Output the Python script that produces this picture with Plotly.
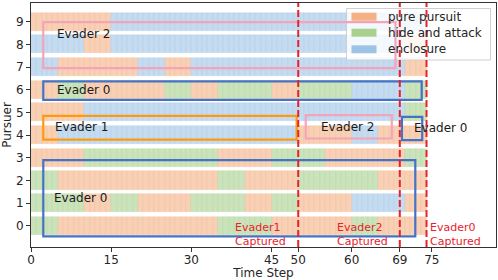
import plotly.graph_objects as go

# ---------------- data ----------------
strategy_codes = ["P", "H", "E"]
strategy_names = ["pure pursuit", "hide and attack", "enclosure"]
strategy_rgb = [(244, 177, 131), (169, 209, 142), (157, 195, 230)]

# strategy chosen by each pursuer for each 5-step decision segment
segment_edges = [0, 5, 10, 15, 20, 25, 30, 35, 40, 45, 50, 55, 60, 65, 70, 74]
pursuer_ids = [0, 1, 2, 3, 4, 5, 6, 7, 8, 9]
pursuer_0 = list("HPPPPPPHHPPPHPP")
pursuer_1 = list("HHPHPPHHPHPPEEP")
pursuer_2 = list("HPPPPPPHPPHHHPP")
pursuer_3 = list("PPHHHHHPPHHPPPH")
pursuer_4 = list("PEEEEEEEEEPPEPP")
pursuer_5 = list("PPEEEEEEEEEEEEH")
pursuer_6 = list("PHPPPHPHHPHHEEH")
pursuer_7 = list("EPPPEPEEEEEEEEP")
pursuer_8 = list("EEPEEEEEEEEEEEP")
pursuer_9 = list("PPPEEEEEEEEEEEE")
pursuer_plans = [pursuer_0, pursuer_1, pursuer_2, pursuer_3, pursuer_4,
                 pursuer_5, pursuer_6, pursuer_7, pursuer_8, pursuer_9]

capture_steps = [50, 69, 74]
capture_evaders = ["Evader1", "Evader2", "Evader0"]

x_ticks = [0, 15, 30, 45, 50, 60, 69, 75]

# evader groups: (label, t0, t1, y0, y1)
group_labels = ["Evader 2", "Evader 0", "Evader 1", "Evader 2", "Evader 0", "Evader 0"]
group_t0 = [2.3, 2.3, 2.3, 51.4, 69.4, 2.3]
group_t1 = [68.2, 73.1, 49.7, 67.5, 73.2, 71.9]
group_y0 = [6.95, 5.55, 3.80, 3.85, 3.78, -0.46]
group_y1 = [8.98, 6.37, 4.85, 4.88, 4.80, 2.90]

# ---------------- styles ----------------
group_colors = ["#F4A3B9", "#4472C4", "#FD9A0E", "#F4A3B9", "#4472C4", "#4472C4"]
group_text_x = [4.4, 4.4, 4.2, 53.9, 71.2, 3.9]
group_text_y = [8.44, 5.98, 4.36, 4.36, 4.32, 1.22]
capture_text_dx = [-12, -12, 0.5]
RED = "#E8222A"
FONT = "DejaVu Sans"
W, H = 498, 280
ML, MR, MT, MB = 31, 2, 3, 33


def rgba(c, a):
    return "rgba(%d,%d,%d,%.2f)" % (c[0], c[1], c[2], a)


fig = go.Figure()

for code, name, rgb in zip(strategy_codes, strategy_names, strategy_rgb):
    ys, bases = [], []
    for pid, plan in zip(pursuer_ids, pursuer_plans):
        for k, c in enumerate(plan):
            if c != code:
                continue
            for t in range(segment_edges[k], segment_edges[k + 1]):
                ys.append(pid)
                bases.append(t)
    fig.add_trace(go.Bar(
        orientation="h", y=ys, x=[1] * len(ys), base=bases, width=0.8,
        name=name, showlegend=False,
        marker=dict(color=rgba(rgb, 0.6), line=dict(color=rgba(rgb, 0.35), width=0.6)),
    ))

shapes = []
annotations = []


def px2paper_x(px):
    return (px - ML) / (W - ML - MR)


def px2paper_y(py):
    return (H - MB - py) / (H - MT - MB)


# legend background (above bars, below boxes/lines)
shapes.append(dict(type="rect", xref="paper", yref="paper",
                   x0=px2paper_x(346.5), x1=px2paper_x(490.5),
                   y0=px2paper_y(60), y1=px2paper_y(8.5),
                   fillcolor="rgba(255,255,255,0.82)",
                   line=dict(color="#D0D0D0", width=1), layer="above"))
legend_rows_y = [16.7, 32.7, 49.3]
for name, rgb, ly in zip(strategy_names, strategy_rgb, legend_rows_y):
    shapes.append(dict(type="rect", xref="paper", yref="paper",
                       x0=px2paper_x(351.5), x1=px2paper_x(376.5),
                       y0=px2paper_y(ly + 4), y1=px2paper_y(ly - 4),
                       fillcolor=rgba(rgb, 1.0), line=dict(width=0), layer="above"))
    annotations.append(dict(xref="paper", yref="paper", x=px2paper_x(385.5),
                            y=px2paper_y(ly), text=name, showarrow=False,
                            xanchor="left", yanchor="middle",
                            font=dict(family=FONT, size=12, color="#262626")))

# evader group boxes
for lab, x0, x1, y0, y1, col, tx, ty in zip(group_labels, group_t0, group_t1, group_y0,
                                             group_y1, group_colors, group_text_x, group_text_y):
    shapes.append(dict(type="rect", xref="x", yref="y", x0=x0, x1=x1, y0=y0, y1=y1,
                       line=dict(color=col, width=2.2), fillcolor="rgba(0,0,0,0)", layer="above"))
    annotations.append(dict(xref="x", yref="y", x=tx, y=ty, text=lab, showarrow=False,
                            xanchor="left", yanchor="middle",
                            font=dict(family=FONT, size=12, color="#1a1a1a")))

# capture lines
for step, ev, dx in zip(capture_steps, capture_evaders, capture_text_dx):
    shapes.append(dict(type="line", xref="x", yref="paper", x0=step, x1=step, y0=0, y1=1,
                       line=dict(color=RED, width=2, dash="7px,3px"), layer="above"))
    annotations.append(dict(xref="x", yref="y", x=step + dx, y=-0.40,
                            text=ev + "<br>Captured",
                            showarrow=False, xanchor="left", yanchor="middle", align="left",
                            borderpad=0,
                            font=dict(family=FONT, size=11, color=RED)))

axis_common = dict(showline=True, mirror=True, linecolor="#333333", linewidth=1,
                   ticks="outside", ticklen=4, tickcolor="#333333", tickwidth=1,
                   showgrid=False, zeroline=False, automargin=False,
                   tickfont=dict(family=FONT, size=12, color="#262626"))

fig.update_layout(
    width=W, height=H, barmode="overlay", bargap=0,
    margin=dict(l=ML, r=MR, t=MT, b=MB),
    paper_bgcolor="white", plot_bgcolor="white",
    font=dict(family=FONT, size=12, color="#262626"),
    shapes=shapes, annotations=annotations, showlegend=False,
    xaxis=dict(range=[0, 87], tickvals=x_ticks, ticktext=[str(v) for v in x_ticks],
               ticklabelstandoff=-2,
               title=dict(text="Time Step", standoff=4,
                          font=dict(family=FONT, size=12, color="#262626")),
               **axis_common),
    yaxis=dict(range=[-0.93, 9.82], tickvals=pursuer_ids,
               ticktext=[str(v) for v in pursuer_ids],
               title=dict(text="Pursuer", standoff=2,
                          font=dict(family=FONT, size=12, color="#262626")),
               **axis_common),
)

fig.write_html("out.html",
               config={"displayModeBar": False},
               post_script="document.body.style.margin='0';document.body.style.padding='0';")
